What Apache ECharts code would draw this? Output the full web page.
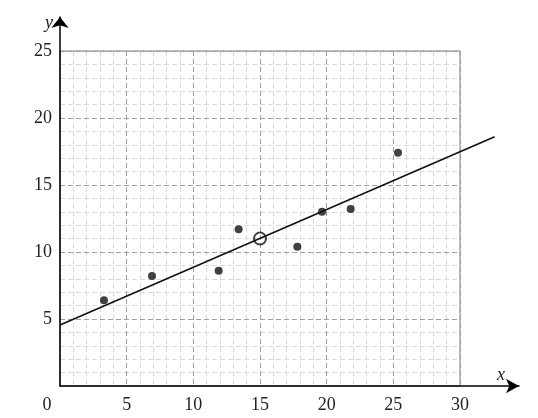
<!DOCTYPE html>
<html>
<head>
<meta charset="utf-8">
<script src="https://cdn.jsdelivr.net/npm/echarts@6/dist/echarts.min.js"></script>
<style>html,body{margin:0;padding:0;background:#fff}#c{width:538px;height:418px}</style>
</head>
<body>
<div id="c"></div>
<script>
var pointsX = [3.3, 6.9, 11.9, 13.4, 17.8, 19.65, 21.8, 25.35];
var pointsY = [6.4, 8.2, 8.6, 11.7, 10.4, 13.0, 13.2, 17.4];
var meanPoint = [15, 11];
var lineX = [0, 32.6];
var lineY = [4.55, 18.6];
var xTicks = [0, 5, 10, 15, 20, 25, 30];
var yTicks = [0, 5, 10, 15, 20, 25];

var font = 'Liberation Serif';
var chart = echarts.init(document.getElementById('c'));
chart.setOption({
  animation: false,
  grid: [
    {left: 60, right: 78, top: 51, bottom: 32, show: true, borderColor: '#a8a8a8', borderWidth: 1.5, backgroundColor: 'transparent', containLabel: false, z: 1},
    {left: 60, right: 19, top: 17, bottom: 32, containLabel: false},
    {left: 60, right: 78, top: 51, bottom: 32, containLabel: false}
  ],
  xAxis: [
    {gridIndex: 0, type: 'value', min: 0, max: 30, interval: 5, z: 2,
     axisLine: {show: false}, axisTick: {show: false},
     splitLine: {show: true, lineStyle: {color: '#a0a0a0', type: [5, 3], width: 1}},
     axisLabel: {show: true, margin: 10, fontFamily: font, fontSize: 18, color: '#222',
       formatter: function (v) { return v === 0 ? '{o|0}' : String(v); },
       rich: {o: {fontFamily: font, fontSize: 18, color: '#222', padding: [0, 26, 0, 0]}}}},
    {gridIndex: 1, type: 'value', min: 0, max: 34.425, z: 20,
     axisLine: {show: true, symbol: ['none', 'arrow'], symbolSize: [11, 13], lineStyle: {color: '#000', width: 1.5}},
     axisTick: {show: false}, axisLabel: {show: false}, splitLine: {show: false},
     name: 'x', nameLocation: 'end', nameGap: -22,
     nameTextStyle: {fontFamily: font, fontStyle: 'italic', fontSize: 18, color: '#222', verticalAlign: 'bottom', padding: [0, 0, 2, 0]}},
    {gridIndex: 2, type: 'value', min: 0, max: 30, interval: 1, z: 0,
     axisLine: {show: false}, axisTick: {show: false}, axisLabel: {show: false},
     splitLine: {show: true, lineStyle: {color: '#dadada', type: [5, 3], width: 1}}}
  ],
  yAxis: [
    {gridIndex: 0, type: 'value', min: 0, max: 25, interval: 5, z: 2,
     axisLine: {show: false}, axisTick: {show: false},
     splitLine: {show: true, lineStyle: {color: '#a0a0a0', type: [5, 3], width: 1}},
     axisLabel: {show: true, margin: 8, fontFamily: font, fontSize: 18, color: '#222',
       formatter: function (v) { return v === 0 ? '' : String(v); }}},
    {gridIndex: 1, type: 'value', min: 0, max: 27.537, z: 20,
     axisLine: {show: true, symbol: ['none', 'arrow'], symbolSize: [13, 11], lineStyle: {color: '#000', width: 1.5}},
     axisTick: {show: false}, axisLabel: {show: false}, splitLine: {show: false},
     name: 'y', nameLocation: 'end', nameGap: -6,
     nameTextStyle: {fontFamily: font, fontStyle: 'italic', fontSize: 18, color: '#222', align: 'right', verticalAlign: 'middle', padding: [0, 7, 0, 0]}},
    {gridIndex: 2, type: 'value', min: 0, max: 25, interval: 1, z: 0,
     axisLine: {show: false}, axisTick: {show: false}, axisLabel: {show: false},
     splitLine: {show: true, lineStyle: {color: '#dadada', type: [5, 3], width: 1}}}
  ],
  series: [
    {type: 'line', xAxisIndex: 1, yAxisIndex: 1, clip: false, symbol: 'none',
     lineStyle: {color: '#111', width: 1.6},
     data: lineX.map(function (x, i) { return [x, lineY[i]]; }), z: 3},
    {type: 'scatter', xAxisIndex: 0, yAxisIndex: 0, symbol: 'circle', symbolSize: 8,
     itemStyle: {color: '#111'},
     data: pointsX.map(function (x, i) { return [x, pointsY[i]]; }), z: 4},
    {type: 'scatter', xAxisIndex: 0, yAxisIndex: 0, symbol: 'circle', symbolSize: 12,
     itemStyle: {color: 'rgba(0,0,0,0)', borderColor: '#111', borderWidth: 2},
     data: [meanPoint], z: 5}
  ]
});
</script>
</body>
</html>
